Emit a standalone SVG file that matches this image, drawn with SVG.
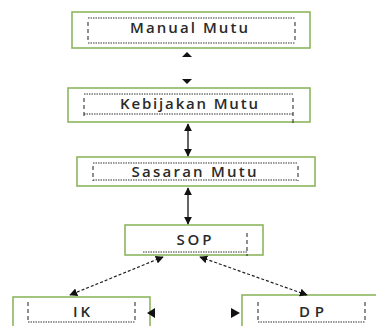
<svg xmlns="http://www.w3.org/2000/svg" width="376" height="326" viewBox="0 0 376 326">
<defs>
<marker id="ah" viewBox="0 0 10 10" refX="9" refY="5" markerWidth="8" markerHeight="8" markerUnits="userSpaceOnUse" orient="auto-start-reverse"><path d="M0,0 L10,5 L0,10 z" fill="#111"/></marker>
</defs>
<style>
.box{fill:#fff;stroke:#8db65e;stroke-width:1.6}
.h{fill:none;stroke:#333;stroke-width:1.1;stroke-dasharray:1.5 1}
.v{fill:none;stroke:#333;stroke-width:1.1;stroke-dasharray:4 3}
.t{font-family:"Open Sans","Liberation Sans",Arial,sans-serif;font-size:15px;font-weight:600;fill:#2a2a2a;text-anchor:middle}
.c{stroke:#111;stroke-width:1.3;fill:none}
.d{stroke:#222;stroke-width:1.2;stroke-dasharray:3 2;fill:none}
</style>
<rect width="376" height="326" fill="#fff"/>
<g id="manual">
<rect class="box" x="72" y="12" width="238" height="36"/>
<path class="h" d="M88,18 H295 M88,43 H295"/>
<path class="v" d="M88,22 V43 M295,22 V43"/>
<text class="t" x="189" y="33" textLength="118" lengthAdjust="spacing">Manual Mutu</text>
</g>
<g id="kebijakan">
<rect class="box" x="68" y="88" width="242" height="34"/>
<path class="h" d="M84,94 H293 M84,114 H293"/>
<path class="v" d="M84,98 V118 M293,98 V123"/>
<text class="t" x="189" y="109" textLength="138" lengthAdjust="spacing">Kebijakan Mutu</text>
</g>
<g id="sasaran">
<rect class="box" x="77" y="157" width="238" height="29"/>
<path class="h" d="M93,163 H298 M93,180 H298"/>
<path class="v" d="M93,166 V181 M298,166 V181"/>
<text class="t" x="194" y="177" textLength="125" lengthAdjust="spacing">Sasaran Mutu</text>
</g>
<g id="sop">
<rect class="box" x="125" y="225" width="138" height="30"/>
<path class="h" d="M143,252 H247"/>
<path class="v" d="M247,233 V256"/>
<text class="t" x="194" y="245" textLength="35" lengthAdjust="spacing">SOP</text>
</g>
<g id="ik">
<rect class="box" x="13" y="297" width="137" height="35"/>
<path class="h" d="M28,322 H135"/>
<path class="v" d="M28,302 V323 M135,302 V323"/>
<text class="t" x="81.5" y="317" textLength="17" lengthAdjust="spacing">IK</text>
</g>
<g id="dp">
<rect class="box" x="242" y="295" width="140" height="37"/>
<path class="h" d="M258,322 H365"/>
<path class="v" d="M258,302 V323 M365,302 V323"/>
<text class="t" x="311.5" y="317" textLength="25" lengthAdjust="spacing">DP</text>
</g>
<g id="connectors">
<path d="M182,57 L187,52 L192,57 z" fill="#111"/>
<path d="M182,79 L187,84 L192,79 z" fill="#111"/>
<line class="c" x1="188" y1="124" x2="188" y2="156" marker-start="url(#ah)" marker-end="url(#ah)"/>
<line class="c" x1="188" y1="188" x2="188" y2="224" marker-start="url(#ah)" marker-end="url(#ah)"/>
<line class="d" x1="163" y1="257" x2="70" y2="295" marker-start="url(#ah)" marker-end="url(#ah)"/>
<line class="d" x1="200" y1="257" x2="307" y2="295" marker-start="url(#ah)" marker-end="url(#ah)"/>
<path d="M155,308 L147,313 L155,318 z" fill="#111"/>
<path d="M231,308 L240,313 L231,318 z" fill="#111"/>
</g>
</svg>
